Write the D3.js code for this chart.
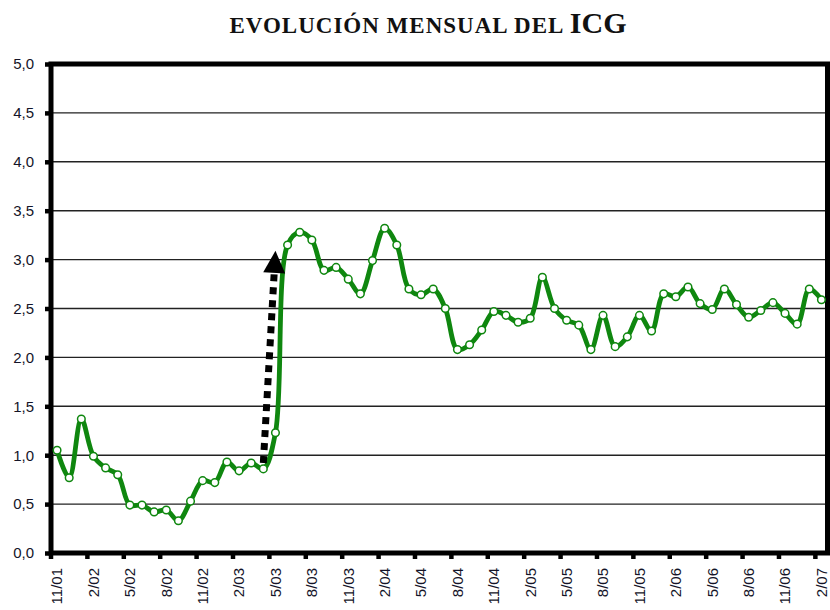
<!DOCTYPE html>
<html>
<head>
<meta charset="utf-8">
<script src="https://cdn.jsdelivr.net/npm/d3@7"></script>
<style>
  body { margin: 0; background: #fff; }
  svg { display: block; }
</style>
</head>
<body>
<div id="canvas"></div>
<script>
// months (m/yy), one point per month
var months = [
  "11/01", "12/01",
  "1/02", "2/02", "3/02", "4/02", "5/02", "6/02", "7/02", "8/02", "9/02", "10/02", "11/02", "12/02",
  "1/03", "2/03", "3/03", "4/03", "5/03", "6/03", "7/03", "8/03", "9/03", "10/03", "11/03", "12/03",
  "1/04", "2/04", "3/04", "4/04", "5/04", "6/04", "7/04", "8/04", "9/04", "10/04", "11/04", "12/04",
  "1/05", "2/05", "3/05", "4/05", "5/05", "6/05", "7/05", "8/05", "9/05", "10/05", "11/05", "12/05",
  "1/06", "2/06", "3/06", "4/06", "5/06", "6/06", "7/06", "8/06", "9/06", "10/06", "11/06", "12/06",
  "1/07", "2/07"
];

// ICG value per month
var icg = [
  1.05, 0.77,
  1.37, 0.99, 0.87, 0.80, 0.49, 0.49, 0.42, 0.44, 0.33, 0.53, 0.74, 0.72,
  0.93, 0.84, 0.92, 0.86, 1.23, 3.15, 3.28, 3.20, 2.89, 2.92, 2.80, 2.65,
  2.99, 3.32, 3.15, 2.70, 2.64, 2.70, 2.50, 2.08, 2.13, 2.28, 2.47, 2.43,
  2.36, 2.40, 2.82, 2.50, 2.38, 2.33, 2.08, 2.43, 2.11, 2.21, 2.43, 2.27,
  2.65, 2.62, 2.72, 2.55, 2.49, 2.70, 2.54, 2.41, 2.48, 2.56, 2.45, 2.34,
  2.70, 2.59
];

// labelled months on the x axis (every third)
var xTickLabels = ["11/01", "2/02", "5/02", "8/02", "11/02", "2/03", "5/03", "8/03", "11/03",
  "2/04", "5/04", "8/04", "11/04", "2/05", "5/05", "8/05", "11/05", "2/06", "5/06", "8/06",
  "11/06", "2/07"];

var yTicks = [0, 0.5, 1, 1.5, 2, 2.5, 3, 3.5, 4, 4.5, 5];

// dotted arrow showing the jump
var arrowFrom = ["4/03", 0.92];
var arrowTo = ["5/03", 3.09];

var titleText = "EVOLUCIÓN MENSUAL DEL ";
var titleBig = "ICG";

var W = 830, H = 610;
var margin = {left: 51, right: 827.5, top: 64, bottom: 553};
var green = "#0f870f";

var svg = d3.select("#canvas")
    .append("svg")
        .attr("width", W)
        .attr("height", H);

var x = d3.scaleBand()
    .domain(months)
    .range([margin.left, margin.right])
    .padding(0);
var bw = x.bandwidth();

var y = d3.scaleLinear()
    .domain([0, 5])
    .range([margin.bottom, margin.top]);

// title
var title = svg.append("text")
    .attr("x", 428)
    .attr("y", 33)
    .attr("text-anchor", "middle")
    .style("font-family", "'Liberation Serif', 'Times New Roman', serif")
    .style("font-weight", "bold")
    .style("fill", "#111");
title.append("tspan").style("font-size", "23px").style("letter-spacing", "1px").text(titleText);
title.append("tspan").style("font-size", "30px").text(titleBig);

// gridlines
svg.append("g")
    .selectAll("line")
    .data(yTicks.filter(function(d) { return d > 0 && d < 5; }))
    .enter().append("line")
    .attr("x1", margin.left)
    .attr("x2", margin.right)
    .attr("y1", function(d) { return y(d); })
    .attr("y2", function(d) { return y(d); })
    .style("stroke", "#222")
    .style("stroke-width", 1.4);

// y axis
var yAxis = d3.axisLeft(y)
    .tickValues(yTicks)
    .tickSize(6)
    .tickPadding(11)
    .tickFormat(function(d) { return d.toFixed(1).replace(".", ","); });

var gy = svg.append("g")
    .attr("transform", "translate(" + margin.left + ",0)")
    .call(yAxis);
gy.select(".domain").remove();
gy.selectAll(".tick line").style("stroke", "#000").style("stroke-width", 4.5);
gy.selectAll("text")
    .style("font-family", "'Liberation Sans', Arial, sans-serif")
    .style("font-size", "15px")
    .style("fill", "#141428");

// x axis: labels centred on the month, tick marks on the month boundary
var xAxis = d3.axisBottom(x)
    .tickValues(xTickLabels)
    .tickSize(6);

var gx = svg.append("g")
    .attr("transform", "translate(0," + margin.bottom + ")")
    .call(xAxis);
gx.select(".domain").remove();
gx.selectAll(".tick line")
    .attr("x1", -bw / 2)
    .attr("x2", -bw / 2)
    .style("stroke", "#000")
    .style("stroke-width", 4.5);
gx.selectAll("text")
    .attr("transform", "rotate(-90)")
    .attr("x", -15)
    .attr("y", 0)
    .attr("dy", "0.36em")
    .style("text-anchor", "end")
    .style("font-family", "'Liberation Sans', Arial, sans-serif")
    .style("font-size", "15px")
    .style("fill", "#141428");

// plot frame
svg.append("rect")
    .attr("x", margin.left)
    .attr("y", margin.top)
    .attr("width", margin.right - margin.left)
    .attr("height", margin.bottom - margin.top)
    .style("fill", "none")
    .style("stroke", "#000")
    .style("stroke-width", 5);

// series
var data = months.map(function(m, i) { return {m: m, v: icg[i]}; });

var line = d3.line()
    .x(function(d) { return x(d.m) + bw / 2; })
    .y(function(d) { return y(d.v); })
    .curve(d3.curveCatmullRom.alpha(0.5));

svg.append("path")
    .datum(data)
    .attr("d", line)
    .style("fill", "none")
    .style("stroke", green)
    .style("stroke-width", 4.8)
    .style("stroke-linejoin", "round");

svg.append("g")
    .selectAll("circle")
    .data(data)
    .enter().append("circle")
    .attr("cx", function(d) { return x(d.m) + bw / 2; })
    .attr("cy", function(d) { return y(d.v); })
    .attr("r", 3.8)
    .style("fill", "#fff")
    .style("stroke", green)
    .style("stroke-width", 1.5);

// arrow
var ax0 = x(arrowFrom[0]) + bw / 2, ay0 = y(arrowFrom[1]);
var ax1 = x(arrowTo[0]) + bw / 2, ay1 = y(arrowTo[1]);
var ang = Math.atan2(ay1 - ay0, ax1 - ax0);
var headLen = 22, headHalf = 11;
var bx = ax1 - headLen * Math.cos(ang), by = ay1 - headLen * Math.sin(ang);

svg.append("line")
    .attr("x1", ax0)
    .attr("y1", ay0)
    .attr("x2", bx)
    .attr("y2", by)
    .style("stroke", "#000")
    .style("stroke-width", 7)
    .style("stroke-dasharray", "7,6");

svg.append("path")
    .attr("d", d3.line()([
        [ax1, ay1],
        [bx + headHalf * Math.sin(ang), by - headHalf * Math.cos(ang)],
        [bx - headHalf * Math.sin(ang), by + headHalf * Math.cos(ang)]
    ]) + "Z")
    .style("fill", "#000");
</script>
</body>
</html>
